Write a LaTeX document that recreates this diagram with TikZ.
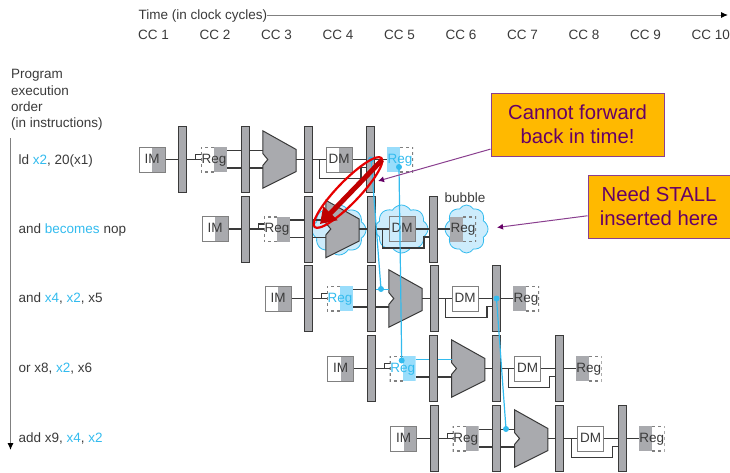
\documentclass[tikz,border=0pt]{standalone}
\usepackage{fontspec}
\setmainfont{Liberation Sans}
\usepackage{tikz}
\usetikzlibrary{shapes,arrows.meta,positioning,calc}

\definecolor{inkgray}{HTML}{3A3A3A}
\definecolor{pipegray}{HTML}{A9AAAE}
\definecolor{edgegray}{HTML}{808080}
\definecolor{fwdblue}{HTML}{33BBEE}
\definecolor{regblue}{HTML}{99DDFB}
\definecolor{cloudblue}{HTML}{CDECFC}
\definecolor{noteamber}{HTML}{FFB900}
\definecolor{notepurple}{HTML}{660066}
\definecolor{arrowpurple}{HTML}{8A3F8F}
\definecolor{stallred}{HTML}{C00000}
\definecolor{ringred}{HTML}{E60000}

\begin{document}
\begin{tikzpicture}[
  x=1pt,y=-1pt,
  plain/.style={font=\fontsize{13.5}{16.3}\selectfont,text=inkgray,inner sep=0pt},
  tag/.style={plain,text height=10pt,text depth=3pt},
  latch/.style={draw=inkgray,fill=pipegray,line width=1pt,minimum width=8pt,
    minimum height=66pt,inner sep=0pt},
  stagebox/.style={tag,minimum width=26pt,minimum height=25pt},
  solidright/.style={stagebox,draw=edgegray,line width=1pt,
    path picture={\fill[#1] (path picture bounding box.north)
      rectangle (path picture bounding box.south east);}},
  regright/.style={stagebox,path picture={
    \fill[#1] (path picture bounding box.north)
      rectangle (path picture bounding box.south east);
    \draw[edgegray,dashed,line width=2pt] (path picture bounding box.north)
      -| (path picture bounding box.south west) -- (path picture bounding box.south);}},
  regleft/.style={stagebox,path picture={
    \fill[#1] (path picture bounding box.north)
      rectangle (path picture bounding box.south west);
    \draw[edgegray,dashed,line width=2pt] (path picture bounding box.north)
      -| (path picture bounding box.south east) -- (path picture bounding box.south);}},
  alubox/.style={minimum width=33pt,minimum height=57pt,inner sep=0pt},
  alushape/.style={draw=inkgray,fill=pipegray,line width=1pt,line join=miter},
  wire/.style={draw=inkgray,line width=1.1pt},
  fwd/.style={draw=fwdblue,line width=1.2pt},
  fwddot/.style={circle,fill=fwdblue,minimum size=6pt,inner sep=0pt},
  bubblecloud/.style={cloud,cloud puffs=8,cloud puff arc=120,aspect=1.05,draw=fwdblue,
    fill=cloudblue,line width=0.8pt,inner sep=0pt},
  note/.style={draw=arrowpurple,fill=noteamber,line width=1pt,text=notepurple,align=center,
    font=\fontsize{20.3}{24}\selectfont},
  pointer/.style={draw=arrowpurple,line width=1pt,-{Latex[length=6pt,width=6pt,notepurple]}},
  axis/.style={draw=edgegray,line width=1pt,-{Latex[length=7pt,width=6pt,black]}},
]
  \clip (0,0) rectangle (730,472);

  % axes and left labels
  \node[tag,anchor=west] (time) at (138.5,16) {Time (in clock cycles)};
  \coordinate (timeend) at (728,15);
  \draw[axis] (time.east |- timeend) -- (timeend);
  \foreach \c in {1,...,10}
    \node[tag,anchor=west] (cc\c) at ({138+61.5*(\c-1)},35.5) {CC \c};
  \node[plain,anchor=north west,align=left] (order) at (11,69.5)
    {Program\\execution\\order\\(in instructions)};
  \coordinate (ordertop) at (10.5,138);
  \coordinate (orderend) at (10.5,450);
  \draw[axis] (ordertop) -- (orderend);

  \node[tag,anchor=west] (ins1) at (18.5,160.5)
    {ld \textcolor{fwdblue}{x2}, 20(x1)};
  \node[tag,anchor=west] (ins2) at (18.5,229.8)
    {and \textcolor{fwdblue}{becomes} nop};
  \node[tag,anchor=west] (ins3) at (18.5,299.2)
    {and \textcolor{fwdblue}{x4}, \textcolor{fwdblue}{x2}, x5};
  \node[tag,anchor=west] (ins4) at (18.5,369.2)
    {or x8, \textcolor{fwdblue}{x2}, x6};
  \node[tag,anchor=west] (ins5) at (18.5,439.2)
    {add x9, \textcolor{fwdblue}{x4}, \textcolor{fwdblue}{x2}};

  % bubble clouds
  \node[bubblecloud,minimum width=54pt,minimum height=50pt] (cloudalu) at (339,230) {};
  \node[bubblecloud,minimum width=53pt,minimum height=48pt] (clouddm) at (401.5,229) {};
  \node[bubblecloud,minimum width=43pt,minimum height=48pt] (cloudreg) at (466.5,229) {};
  \node[plain,anchor=south] (bubble) at (465,203) {bubble};

  % the five pipeline rows
  \foreach \rw/\px/\py/\idc/\idt/\dmc/\wbc/\wbt in {
    1/139/159.5/pipegray/inkgray/pipegray/regblue/fwdblue,
    2/202/229/pipegray/inkgray/pipegray/pipegray/inkgray,
    3/265/298.5/regblue/fwdblue/white/pipegray/inkgray,
    4/327.7/368.5/regblue/fwdblue/white/pipegray/inkgray,
    5/390.7/438.5/pipegray/inkgray/white/pipegray/inkgray}{
    \node[solidright=pipegray] (im\rw) at (\px+13,\py) {IM};
    \node[latch] (lat\rw1) at (\px+43.5,\py) {};
    \node[regright=\idc,text=\idt] (reg\rw) at (\px+75,\py) {Reg};
    \node[latch] (lat\rw2) at (\px+106,\py) {};
    \node[alubox] (alu\rw) at (\px+140.5,\py) {};
    \node[latch] (lat\rw3) at (\px+169,\py) {};
    \node[solidright=\dmc] (dm\rw) at (\px+200,\py) {DM};
    \node[latch] (lat\rw4) at (\px+231.5,\py) {};
    \node[regleft=\wbc,text=\wbt] (wb\rw) at (\px+261,\py) {Reg};

    \draw[alushape] (alu\rw.north west) -- ([yshift=10pt]alu\rw.east)
      -- ([yshift=-12pt]alu\rw.east) -- (alu\rw.south west)
      -- ([yshift=-6pt]alu\rw.west) -- ([xshift=5pt]alu\rw.west)
      -- ([yshift=6pt]alu\rw.west) -- cycle;

    \draw[wire] (im\rw) -- (lat\rw1);
    \draw[wire] (lat\rw1.east) -- ([xshift=-5pt]reg\rw.west)
      |- ([yshift=5pt]reg\rw.west);
    \draw[wire] ([xshift=-5pt]reg\rw.west) -- (reg\rw.west);
    \draw[wire] ([yshift=9pt]reg\rw.east) -- ([yshift=9pt]lat\rw2.west);
    \draw[wire] ([yshift=-8.5pt]reg\rw.east) -- ([yshift=-8.5pt]lat\rw2.west);
    \draw[wire] ([yshift=9pt]lat\rw2.east) -- ([yshift=9pt]alu\rw.west);
    \draw[wire] ([yshift=-8.5pt]lat\rw2.east) -- ([yshift=-8.5pt]alu\rw.west);
    \draw[wire] (alu\rw.east) -- (lat\rw3.west);
    \draw[wire] (lat\rw3.east) -- (dm\rw.west);
    \draw[wire] (dm\rw.east) -- (lat\rw4.west);
    \draw[wire] ([xshift=7pt]lat\rw3.east) |- ([xshift=-5pt,yshift=-19pt]lat\rw4.west)
      -- ([xshift=-5pt,yshift=-8pt]lat\rw4.west) -- ([yshift=-8pt]lat\rw4.west);
    \draw[wire] (lat\rw4.east) -- (wb\rw.west);
  }

  % forwarding paths
  \node[fwddot] (dotmema) at (371,159.5) {};
  \node[fwddot] (dotexa) at (381,289) {};
  \node[fwddot] (dotwba) at (399,167) {};
  \node[fwddot] (dotida) at (401.7,360.5) {};
  \node[fwddot] (dotmemb) at (496.5,298.5) {};
  \node[fwddot] (dotexb) at (506,429) {};
  \draw[fwd] (dotmema.center) -- (dotexa.center);
  \draw[fwd] (dotwba.center) -- (dotida.center);
  \draw[fwd] (dotmemb.center) -- (dotexb.center);
  \draw[fwd] ([yshift=9pt]lat32.east) -- ([yshift=9pt]alu3.west);
  \draw[fwd] ([yshift=9pt]reg4.east) -- ([yshift=9pt]lat42.west);
  \draw[fwd] ([yshift=9pt]lat42.east) -- ([yshift=9pt]alu4.west);

  % callouts
  \node[note,minimum width=173pt,minimum height=63pt,inner sep=0pt] (backnote) at (577.5,124.5)
    {Cannot forward\\back in time!};
  \node[note,minimum width=142pt,minimum height=63pt,inner sep=0pt] (stallnote) at (659,206.5)
    {Need STALL\\inserted here};
  \coordinate (backtip) at (378,181);
  \coordinate (stalltip) at (497,227.5);
  \draw[pointer] (backnote) -- (backtip);
  \draw[pointer] (stallnote) -- (stalltip);

  % the impossible forward
  \node[ellipse,draw=ringred,line width=2.2pt,rotate=46,minimum width=96pt,
    minimum height=22pt,inner sep=0pt] (crossout) at (348,192.5) {};
  \coordinate (forwardfrom) at (382,160);
  \coordinate (forwardto) at (320,224);
  \draw[stallred,line width=5pt,-{Triangle[length=15pt,width=19pt]}]
    (forwardfrom) -- (forwardto);
\end{tikzpicture}
\end{document}
